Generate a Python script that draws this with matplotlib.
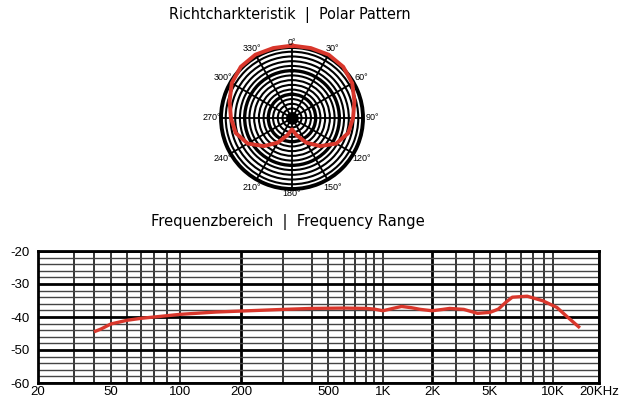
import numpy as np
import matplotlib
matplotlib.use("Agg")
import matplotlib.pyplot as plt
from matplotlib.ticker import FixedLocator, FixedFormatter

# polar pattern (degrees, relative radius; 1.0 = outer ring)
polar_deg = [0, 15, 30, 45, 60, 75, 90, 105, 120, 135, 150, 165, 180,
             195, 210, 225, 240, 255, 270, 285, 300, 315, 330, 345, 360]
polar_r = [1.02, 1.02, 1.03, 1.02, 0.98, 0.91, 0.86, 0.82, 0.72, 0.56, 0.40, 0.25, 0.16,
           0.25, 0.40, 0.56, 0.72, 0.82, 0.86, 0.91, 0.98, 1.02, 1.03, 1.02, 1.02]
polar_labels = ["0°", "30°", "60°", "90°", "120°", "150°",
                "180°", "210°", "240°", "270°", "300°", "330°"]

# frequency response
freq = [40, 44, 50, 60, 70, 85, 100, 150, 200, 300, 400, 600, 800, 900, 1000,
        1150, 1300, 1500, 1700, 2000, 2400, 2700, 3400, 4200, 5000, 5500,
        6000, 6400, 7500, 8900, 10600, 12500, 15000]
level = [-44.5, -43.6, -42.1, -41.0, -40.4, -39.8, -39.2, -38.5, -38.2, -37.7,
         -37.4, -37.3, -37.4, -37.6, -38.1, -37.4, -36.8, -37.2, -37.7, -38.1,
         -37.7, -37.4, -37.7, -38.9, -38.6, -37.6, -35.5, -34.0, -33.7, -35.1,
         -37.1, -40.1, -43.3]

freq_ticks = [20, 50, 100, 200, 500, 1000, 2000, 5000, 10000, 20000]
freq_tick_labels = ["20", "50", "100", "200", "500", "1K", "2K", "5K", "10K", "20KHz"]
db_ticks = [-60, -50, -40, -30, -20]

# grid of the printed chart (its frequency axis is not a clean log scale)
grid_f = [20, 30, 40, 50, 60, 70, 80, 90, 100, 200, 300, 400, 500, 600, 700, 800,
          900, 1000, 2000, 3000, 4000, 5000, 6000, 7000, 8000, 9000, 10000, 20000]
grid_pos = [37.5, 74, 94, 111, 127, 141, 154, 167, 180, 241, 283, 312, 328, 344,
            355, 366, 374, 383, 432, 456, 474, 490, 506, 521, 533, 544, 553, 599]
grid_log = np.log10(grid_f)


def fwd(f):
    f = np.clip(np.asarray(f, dtype=float), 1e-3, None)
    return np.interp(np.log10(f), grid_log, grid_pos,
                     left=grid_pos[0], right=grid_pos[-1])


def inv(p):
    return 10 ** np.interp(p, grid_pos, grid_log)


red = "#d9372c"
plt.rcParams["font.family"] = ["Liberation Sans", "DejaVu Sans"]

fig = plt.figure(figsize=(6.4, 4.0), dpi=100)

fig.text(0.453, 0.963, "Richtcharkteristik  |  Polar Pattern", family=["DejaVu Sans"],
         fontstretch="condensed", fontsize=11.5, ha="center", va="center")
fig.text(0.450, 0.445, "Frequenzbereich  |  Frequency Range", family=["DejaVu Sans"],
         fontstretch="condensed", fontsize=11.8, ha="center", va="center")

# ---- polar pattern
pa = fig.add_axes([221 / 640, 1 - 189 / 400, 142 / 640, 142 / 400], projection="polar")
pa.set_theta_zero_location("N")
pa.set_theta_direction(-1)
pa.set_ylim(0, 1)
rings = np.arange(1, 15) / 15
pa.set_rgrids(rings, labels=[""] * len(rings))
pa.set_thetagrids(np.arange(0, 360, 30), labels=[""] * 12)
for i, gl in enumerate(pa.yaxis.get_gridlines()):
    gl.set_color("black")
    gl.set_linestyle("-")
    gl.set_linewidth(2.4 if (i + 1) % 5 == 0 else 1.5)
for gl in pa.xaxis.get_gridlines():
    gl.set_color("black")
    gl.set_linestyle("-")
    gl.set_linewidth(1.3)
pa.spines["polar"].set_linewidth(2.8)
pa.tick_params(length=0, pad=0)
pa.plot([0], [0], "o", color="black", ms=8, zorder=4)
pa.plot(np.deg2rad(polar_deg), polar_r, color=red, lw=2.8, clip_on=False, zorder=5)
for k, lab in enumerate(polar_labels):
    ang = k * 30
    rr = 1.07 if ang in (0, 180) else 1.13
    pa.text(np.deg2rad(ang), rr, lab, fontsize=6.5, ha="center", va="center",
            clip_on=False, zorder=6)

# ---- frequency response
ax = fig.add_axes([37.5 / 640, 1 - 383 / 400, 561.5 / 640, 132 / 400])
ax.set_xscale("function", functions=(fwd, inv))
ax.set_xlim(20, 20000)
ax.set_ylim(-60, -20)

xlabels = [freq_tick_labels[freq_ticks.index(f)] if f in freq_ticks else "" for f in grid_f]
ax.xaxis.set_major_locator(FixedLocator(grid_f))
ax.xaxis.set_major_formatter(FixedFormatter(xlabels))
ax.xaxis.set_minor_locator(FixedLocator([]))
ydb = list(range(-60, -19, 2))
ax.yaxis.set_major_locator(FixedLocator(ydb))
ax.yaxis.set_major_formatter(FixedFormatter([str(v) if v in db_ticks else "" for v in ydb]))
ax.grid(True, color="black")
for f, gl in zip(grid_f, ax.xaxis.get_gridlines()):
    gl.set_linewidth(2.0 if f in (200, 2000) else 1.1)
for v, gl in zip(ydb, ax.yaxis.get_gridlines()):
    if v in db_ticks:
        gl.set_linewidth(2.0)
    else:
        gl.set_linewidth(1.0)
        gl.set_color("#444444")
for s in ax.spines.values():
    s.set_linewidth(2.0)
ax.tick_params(length=0, labelsize=9.5)
ax.tick_params(axis="x", pad=2)
ax.tick_params(axis="y", pad=6)
ax.plot(freq, level, color=red, lw=2.4, solid_capstyle="butt", zorder=5)

fig.savefig("out.png", dpi=100)
